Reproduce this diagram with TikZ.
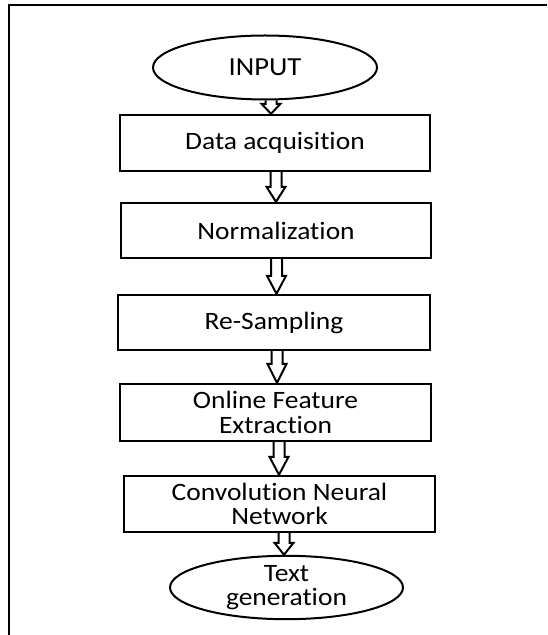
\documentclass[tikz,border=0pt]{standalone}
\usepackage{fontspec}
\setmainfont{Carlito}[FakeStretch=1.1,Ligatures=NoCommon]
\usetikzlibrary{calc,shapes.geometric}
\tikzset{
  boxnode/.style={draw, line width=2.4pt, rectangle, inner sep=0pt, align=center,
    font=\fontsize{25}{24.5}\selectfont},
  ovalnode/.style={draw, line width=2pt, ellipse, inner sep=0pt, align=center,
    font=\fontsize{25}{24.5}\selectfont},
  arrowline/.style={draw, line width=2pt, line join=miter},
  frameline/.style={line width=2pt}
}
\newcommand\flowarrow[4]{%
  \draw[arrowline] let \p1=(#1.south), \p2=(#2.north) in
    (#3-5.5,\y1) -- (#3-5.5,\y2+#4) -- (#3-9.5,\y2+#4) -- (#3,\y2)
    -- (#3+9.5,\y2+#4) -- (#3+5.5,\y2+#4) -- (#3+5.5,\y1);
}
\begin{document}
\begin{tikzpicture}[x=1pt,y=1pt]
\useasboundingbox (0,0) rectangle (547,635);
\draw[frameline] (9,0) -- (9,630) -- (547,630);

\node[ovalnode, minimum width=224pt, minimum height=64pt,
  font=\fontsize{26}{24}\selectfont] (in) at (265,567.5) {INPUT};
\node[boxnode, minimum width=310pt, minimum height=56pt] (b1) at (275,492) {Data acquisition};
\node[boxnode, minimum width=310pt, minimum height=55pt] (b2) at (276,404.5) {Normalization};
\node[boxnode, minimum width=312pt, minimum height=55pt] (b3) at (274,312.5) {Re-Sampling};
\node[boxnode, minimum width=311pt, minimum height=57pt] (b4) at (275.5,222.5) {Online Feature\\Extraction};
\node[boxnode, minimum width=311pt, minimum height=56pt] (b5) at (279.5,131) {Convolution Neural\\Network};
\node[ovalnode, minimum width=233pt, minimum height=59pt] (out) at (286.5,47.5) {Text\\generation};

\flowarrow{in}{b1}{271}{10}
\flowarrow{b1}{b2}{276}{15}
\flowarrow{b2}{b3}{276.5}{18}
\flowarrow{b3}{b4}{277}{19}
\flowarrow{b4}{b5}{279}{18}
\flowarrow{b5}{out}{284}{12}
\end{tikzpicture}
\end{document}
